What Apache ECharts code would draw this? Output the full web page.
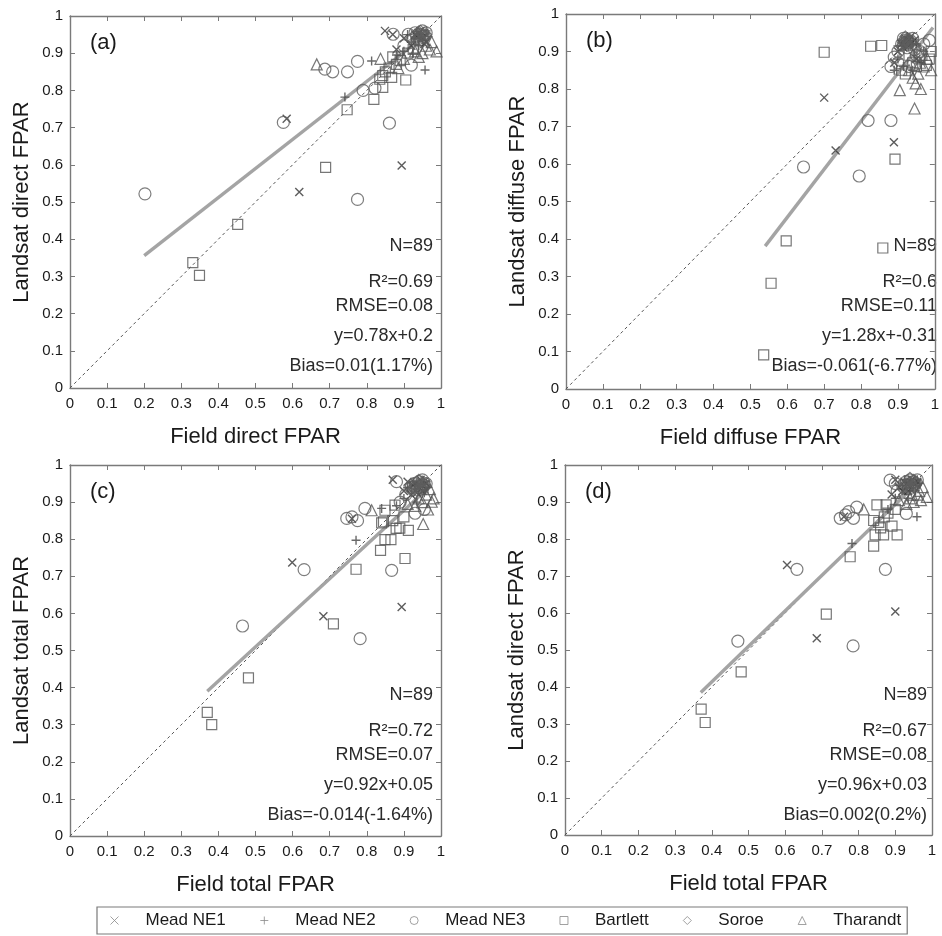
<!DOCTYPE html>
<html>
<head>
<meta charset="utf-8">
<script src="https://cdn.jsdelivr.net/npm/echarts@6/dist/echarts.min.js"></script>
<style>html,body{margin:0;padding:0;background:#fff}#c{width:942px;height:936px}</style>
</head>
<body>
<div id="c"></div>
<script>
// ---------- DATA ----------
var siteNames = ['Mead NE1', 'Mead NE2', 'Mead NE3', 'Bartlett', 'Soroe', 'Tharandt'];
var ticks = [0, 0.1, 0.2, 0.3, 0.4, 0.5, 0.6, 0.7, 0.8, 0.9, 1];

// Panel (a) Field direct vs Landsat direct
var aNE1 = [[0.584,0.724],[0.618,0.527],[0.894,0.598],[0.849,0.96],[0.93,0.95],[0.94,0.955],[0.95,0.94],[0.92,0.92],[0.96,0.93],[0.88,0.91],[0.945,0.96],[0.9,0.94],[0.955,0.925],[0.87,0.95],[0.935,0.945]];
var aNE2 = [[0.741,0.782],[0.813,0.879],[0.957,0.855],[0.93,0.94],[0.945,0.95],[0.96,0.96],[0.92,0.93],[0.94,0.92],[0.9,0.905],[0.95,0.935],[0.935,0.958],[0.91,0.95],[0.965,0.945],[0.88,0.895],[0.925,0.9]];
var aNE3 = [[0.202,0.522],[0.575,0.714],[0.775,0.507],[0.861,0.712],[0.687,0.857],[0.708,0.85],[0.748,0.85],[0.775,0.878],[0.79,0.80],[0.822,0.806],[0.92,0.868],[0.871,0.951],[0.912,0.951],[0.93,0.955],[0.945,0.95],[0.95,0.96],[0.94,0.94],[0.955,0.945],[0.9,0.92],[0.96,0.955]];
var aBAR = [[0.331,0.337],[0.349,0.303],[0.452,0.44],[0.689,0.593],[0.747,0.748],[0.819,0.776],[0.843,0.808],[0.843,0.84],[0.867,0.835],[0.905,0.828],[0.86,0.86],[0.88,0.87],[0.835,0.83],[0.87,0.89],[0.89,0.88],[0.91,0.9],[0.925,0.91],[0.85,0.85]];
var aSOR = [[0.93,0.95],[0.94,0.945],[0.945,0.96],[0.95,0.95],[0.935,0.935],[0.955,0.94],[0.92,0.94],[0.96,0.95],[0.94,0.958],[0.95,0.93]];
var aTHA = [[0.665,0.87],[0.837,0.885],[0.885,0.86],[0.988,0.905],[0.95,0.9],[0.96,0.92],[0.97,0.91],[0.93,0.905],[0.9,0.885],[0.94,0.89],[0.975,0.93]];
var aFit = [[0.2,0.356],[0.97,0.957]];

// Panel (b) Field diffuse vs Landsat diffuse
var bNE1 = [[0.70,0.777],[0.731,0.636],[0.889,0.658],[0.91,0.92],[0.925,0.93],[0.93,0.915],[0.92,0.935],[0.94,0.925],[0.935,0.94],[0.915,0.91],[0.9,0.9],[0.945,0.93],[0.95,0.88],[0.89,0.87],[0.93,0.93]];
var bNE2 = [[0.9,0.915],[0.92,0.925],[0.93,0.93],[0.94,0.92],[0.91,0.93],[0.925,0.94],[0.935,0.915],[0.95,0.92],[0.9,0.88],[0.96,0.87],[0.89,0.85],[0.915,0.86],[0.94,0.85],[0.97,0.9],[0.92,0.915]];
var bNE3 = [[0.644,0.592],[0.795,0.568],[0.819,0.716],[0.881,0.716],[0.881,0.86],[0.9,0.87],[0.92,0.93],[0.93,0.925],[0.91,0.92],[0.94,0.935],[0.925,0.91],[0.93,0.86],[0.95,0.89],[0.96,0.9],[0.9,0.9],[0.915,0.935],[0.945,0.905],[0.97,0.92],[0.985,0.93],[0.89,0.885]];
var bBAR = [[0.70,0.898],[0.826,0.914],[0.856,0.916],[0.597,0.395],[0.556,0.282],[0.536,0.091],[0.859,0.376],[0.892,0.613],[0.977,0.863],[0.96,0.88],[0.92,0.84],[0.94,0.87],[0.985,0.88],[0.93,0.89],[0.95,0.86],[0.91,0.85],[0.965,0.89],[0.99,0.9]];
var bSOR = [[0.92,0.93],[0.93,0.935],[0.925,0.92],[0.915,0.925],[0.94,0.93],[0.935,0.925],[0.91,0.915],[0.95,0.91],[0.92,0.94],[0.93,0.92]];
var bTHA = [[0.905,0.797],[0.945,0.748],[0.948,0.815],[0.962,0.80],[0.955,0.841],[0.93,0.85],[0.97,0.86],[0.98,0.88],[0.94,0.83],[0.99,0.85],[0.96,0.87]];
var bFit = [[0.54,0.381],[0.995,0.964]];

// Panel (c) Field total vs Landsat total
var cNE1 = [[0.599,0.737],[0.683,0.592],[0.894,0.617],[0.76,0.855],[0.87,0.96],[0.93,0.95],[0.94,0.94],[0.92,0.92],[0.95,0.93],[0.9,0.93],[0.96,0.95],[0.91,0.955],[0.945,0.96],[0.935,0.925],[0.925,0.945]];
var cNE2 = [[0.771,0.797],[0.84,0.883],[0.93,0.945],[0.945,0.95],[0.95,0.94],[0.92,0.93],[0.96,0.955],[0.9,0.91],[0.94,0.93],[0.955,0.925],[0.88,0.89],[0.91,0.94],[0.965,0.94],[0.925,0.955],[0.935,0.9]];
var cNE3 = [[0.465,0.566],[0.631,0.718],[0.782,0.532],[0.867,0.716],[0.746,0.856],[0.76,0.86],[0.775,0.85],[0.795,0.883],[0.88,0.955],[0.93,0.95],[0.94,0.955],[0.95,0.96],[0.92,0.94],[0.955,0.945],[0.905,0.92],[0.96,0.95],[0.945,0.935],[0.93,0.87],[0.955,0.88],[0.89,0.9]];
var cBAR = [[0.37,0.333],[0.382,0.30],[0.481,0.426],[0.71,0.572],[0.771,0.719],[0.903,0.748],[0.837,0.77],[0.849,0.799],[0.865,0.799],[0.879,0.829],[0.912,0.824],[0.889,0.83],[0.845,0.847],[0.849,0.878],[0.876,0.892],[0.84,0.844],[0.87,0.85],[0.9,0.86]];
var cSOR = [[0.93,0.945],[0.94,0.95],[0.945,0.94],[0.935,0.93],[0.95,0.955],[0.925,0.94],[0.955,0.945],[0.92,0.93],[0.94,0.96],[0.95,0.935]];
var cTHA = [[0.813,0.878],[0.952,0.841],[0.975,0.901],[0.96,0.92],[0.94,0.91],[0.93,0.89],[0.965,0.88],[0.91,0.895],[0.95,0.9],[0.98,0.91],[0.97,0.935]];
var cFit = [[0.37,0.39],[0.97,0.942]];

// Panel (d) Field total vs Landsat direct
var dNE1 = [[0.605,0.73],[0.686,0.532],[0.90,0.604],[0.76,0.86],[0.9,0.96],[0.93,0.95],[0.94,0.945],[0.92,0.93],[0.95,0.95],[0.91,0.94],[0.96,0.955],[0.89,0.92],[0.945,0.96],[0.935,0.93],[0.925,0.955]];
var dNE2 = [[0.782,0.788],[0.959,0.86],[0.93,0.945],[0.94,0.95],[0.95,0.945],[0.92,0.935],[0.96,0.96],[0.9,0.91],[0.94,0.93],[0.955,0.93],[0.88,0.88],[0.91,0.945],[0.965,0.95],[0.925,0.96],[0.935,0.91]];
var dNE3 = [[0.471,0.524],[0.632,0.718],[0.785,0.511],[0.873,0.718],[0.75,0.856],[0.764,0.865],[0.786,0.856],[0.773,0.874],[0.795,0.886],[0.93,0.869],[0.886,0.959],[0.93,0.955],[0.94,0.96],[0.95,0.955],[0.92,0.945],[0.955,0.95],[0.905,0.93],[0.96,0.96],[0.945,0.94],[0.9,0.95]];
var dBAR = [[0.371,0.34],[0.382,0.304],[0.48,0.441],[0.712,0.597],[0.777,0.752],[0.841,0.781],[0.845,0.811],[0.868,0.811],[0.905,0.811],[0.891,0.835],[0.841,0.85],[0.85,0.892],[0.875,0.892],[0.86,0.83],[0.87,0.86],[0.855,0.845],[0.88,0.87],[0.9,0.88]];
var dSOR = [[0.93,0.95],[0.94,0.955],[0.945,0.945],[0.935,0.935],[0.95,0.96],[0.925,0.945],[0.955,0.95],[0.92,0.935],[0.94,0.965],[0.95,0.94]];
var dTHA = [[0.814,0.88],[0.986,0.914],[0.96,0.92],[0.94,0.91],[0.95,0.9],[0.93,0.895],[0.965,0.93],[0.91,0.905],[0.97,0.905],[0.945,0.92],[0.975,0.94]];
var dFit = [[0.37,0.385],[0.97,0.961]];

var oneToOne = [[0,0],[1,1]];

var panelLabels = ['(a)', '(b)', '(c)', '(d)'];
var xNames = ['Field direct FPAR', 'Field diffuse FPAR', 'Field total FPAR', 'Field total FPAR'];
var yNames = ['Landsat direct FPAR', 'Landsat diffuse FPAR', 'Landsat total FPAR', 'Landsat direct FPAR'];
var statsA = ['N=89', 'R\u00B2=0.69', 'RMSE=0.08', 'y=0.78x+0.2', 'Bias=0.01(1.17%)'];
var statsB = ['N=89', 'R\u00B2=0.6', 'RMSE=0.11', 'y=1.28x+-0.31', 'Bias=-0.061(-6.77%)'];
var statsC = ['N=89', 'R\u00B2=0.72', 'RMSE=0.07', 'y=0.92x+0.05', 'Bias=-0.014(-1.64%)'];
var statsD = ['N=89', 'R\u00B2=0.67', 'RMSE=0.08', 'y=0.96x+0.03', 'Bias=0.002(0.2%)'];

// ---------- LAYOUT / STYLE ----------
var FONT = '"Liberation Sans", Arial, Helvetica, sans-serif';
var grids = [
  {left: 70, top: 16, width: 371, height: 372},
  {left: 566, top: 14, width: 379, height: 375},
  {left: 70, top: 465, width: 371, height: 371},
  {left: 565, top: 465, width: 367, height: 370}
];
var panels = [
  {sites: [aNE1, aNE2, aNE3, aBAR, aSOR, aTHA], fit: aFit, stats: statsA},
  {sites: [bNE1, bNE2, bNE3, bBAR, bSOR, bTHA], fit: bFit, stats: statsB},
  {sites: [cNE1, cNE2, cNE3, cBAR, cSOR, cTHA], fit: cFit, stats: statsC},
  {sites: [dNE1, dNE2, dNE3, dBAR, dSOR, dTHA], fit: dFit, stats: statsD}
];
var CROSS = 'path://M0,0L10,10M10,0L0,10';
var PLUS = 'path://M5,0L5,10M0,5L10,5';
var symbols = [CROSS, PLUS, 'circle', 'rect', 'diamond', 'triangle'];
var symSizes = [8, 9, 12, 10, 11, 11];
var symColors = ['#333', '#444', '#5e5e5e', '#555', '#5e5e5e', '#555'];
var axisColor = '#7a7a7a';

var xAxes = [], yAxes = [], series = [], graphics = [];
grids.forEach(function (g, i) {
  var common = {
    gridIndex: i, type: 'value', min: 0, max: 1, interval: 0.1,
    splitLine: {show: false},
    axisLine: {show: true, onZero: false, lineStyle: {color: axisColor, width: 1.4}},
    axisTick: {show: true, inside: true, length: 5, lineStyle: {color: axisColor}}
  };
  xAxes.push(Object.assign({}, common, {
    position: 'bottom', name: xNames[i], nameLocation: 'middle', nameGap: 38,
    nameTextStyle: {fontFamily: FONT, fontSize: 22, color: '#1a1a1a'},
    axisLabel: {fontFamily: FONT, fontSize: 15, color: '#1a1a1a', margin: 8}
  }));
  xAxes.push(Object.assign({}, common, {position: 'top', axisLabel: {show: false}}));
  yAxes.push(Object.assign({}, common, {
    position: 'left', name: yNames[i], nameLocation: 'middle', nameGap: 37,
    nameTextStyle: {fontFamily: FONT, fontSize: 22, color: '#1a1a1a'},
    axisLabel: {fontFamily: FONT, fontSize: 15, color: '#1a1a1a', margin: 7}
  }));
  yAxes.push(Object.assign({}, common, {position: 'right', axisLabel: {show: false}}));

  var p = panels[i];
  series.push({
    type: 'line', xAxisIndex: 2 * i, yAxisIndex: 2 * i, data: oneToOne, symbol: 'none', silent: true,
    lineStyle: {color: '#555', width: 1, type: [3, 3]}, z: 1
  });
  p.sites.forEach(function (d, k) {
    series.push({
      type: 'scatter', name: siteNames[k], xAxisIndex: 2 * i, yAxisIndex: 2 * i, data: d,
      symbol: symbols[k], symbolSize: symSizes[k],
      itemStyle: {color: 'rgba(0,0,0,0)', borderColor: symColors[k], borderWidth: k < 2 ? 1.4 : 1.2},
      z: 3
    });
  });
  series.push({
    type: 'line', xAxisIndex: 2 * i, yAxisIndex: 2 * i, data: p.fit, symbol: 'none', silent: true,
    lineStyle: {color: '#a4a4a4', width: 3.4}, z: 2
  });

  graphics.push({
    type: 'text', left: g.left + 20, top: g.top + 16,
    style: {text: panelLabels[i], font: '22px ' + FONT, fill: '#1a1a1a'}
  });
  var rightX = (i === 1) ? 937 : (i === 3 ? 927 : 433);
  var ys = [230, 266, 290, 320, 350];
  p.stats.forEach(function (s, j) {
    graphics.push({
      type: 'text', x: rightX, y: g.top + ys[j] - (i === 1 ? -2 : 0),
      style: {text: s, font: '18px ' + FONT, fill: '#2a2a2a', align: 'right', verticalAlign: 'middle'}
    });
  });
});

var legendData = siteNames.map(function (n, k) {
  return {name: n, icon: symbols[k], itemStyle: {color: 'rgba(0,0,0,0)', borderColor: '#8a8a8a', borderWidth: 1}};
});

var chart = echarts.init(document.getElementById('c'), null, {renderer: 'canvas'});
chart.setOption({
  animation: false,
  backgroundColor: '#fff',
  grid: grids,
  xAxis: xAxes,
  yAxis: yAxes,
  series: series,
  legend: {
    data: legendData, left: 97, top: 907, orient: 'horizontal',
    itemWidth: 8, itemHeight: 8, itemGap: 34,
    padding: [5, 6, 5, 13],
    borderColor: '#7a7a7a', borderWidth: 1.2,
    textStyle: {fontFamily: FONT, fontSize: 17, color: '#1a1a1a', padding: [0, 0, 0, 22]},
    selectedMode: false
  },
  graphic: graphics
});
</script>
</body>
</html>
